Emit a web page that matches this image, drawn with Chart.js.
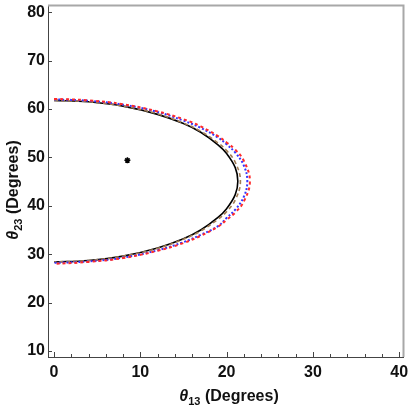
<!DOCTYPE html>
<html>
<head>
<meta charset="utf-8">
<script src="https://cdn.jsdelivr.net/npm/chart.js@4.4.1/dist/chart.umd.min.js"></script>
<style>
  html, body { margin: 0; padding: 0; background: #fff; }
  #wrap { width: 409px; height: 409px; }
</style>
</head>
<body>
<div id="wrap"><canvas id="myChart"></canvas></div>
<script>
// values (theta13, theta23 in degrees)
const blackX = [0, 4, 8, 12, 15, 17, 19, 20, 21, 21.3, 21, 20, 19, 17, 15, 12, 8, 4, 0];
const blackY = [61.8, 61.5, 60.6, 58.9, 57.0, 55.2, 52.6, 50.8, 47.9, 45.1, 42.3, 39.4, 37.6, 35.0, 33.2, 31.3, 29.6, 28.7, 28.4];

const brownX = [0, 4, 8, 12, 15, 17, 19, 20, 21, 21.6, 21, 20, 19, 17, 15, 12, 8, 4, 0];
const brownY = [61.8, 61.5, 60.6, 59.0, 57.1, 55.4, 53.0, 51.4, 49.0, 45.1, 41.2, 38.8, 37.2, 34.8, 33.1, 31.2, 29.6, 28.7, 28.4];

const blueX = [0, 4, 8, 12, 15, 17, 19, 20, 21, 22, 22.4, 22, 21, 20, 19, 17, 15, 12, 8, 4, 0];
const blueY = [62.0, 61.7, 60.9, 59.4, 57.6, 56.1, 54.1, 52.7, 51.0, 48.3, 45.1, 41.9, 39.2, 37.5, 35.8, 34.0, 32.5, 30.8, 29.3, 28.5, 28.2];

const redX = [0, 4, 8, 12, 15, 17, 19, 20, 21, 22, 22.7, 22, 21, 20, 19, 17, 15, 12, 8, 4, 0];
const redY = [62.1, 61.8, 61.0, 59.5, 57.9, 56.4, 54.4, 53.1, 51.6, 49.3, 45.1, 40.9, 38.6, 37.1, 35.7, 33.8, 32.3, 30.7, 29.2, 28.4, 28.0];

const starX = [8.5];
const starY = [49.4];

const xTicks = [0, 10, 20, 30, 40];
const yTicks = [10, 20, 30, 40, 50, 60, 70, 80];

const xTitle = ['θ', '13', ' (Degrees)'];
const yTitle = ['θ', '23', ' (Degrees)'];

const toPoints = (xs, ys) => xs.map((x, i) => ({ x, y: ys[i] }));

const FONT = "'Liberation Sans', 'DejaVu Sans', Arial, sans-serif";

// theta in bold italic, subscript smaller, rest bold
function drawTitle(ctx, parts, cx, baseY) {
  const fonts = [`italic bold 16px ${FONT}`, `bold 11px ${FONT}`, `bold 16px ${FONT}`];
  const shifts = [0, 4, 0];
  const widths = parts.map((p, i) => { ctx.font = fonts[i]; return ctx.measureText(p).width; });
  let x = cx - widths.reduce((a, b) => a + b, 0) / 2;
  ctx.textBaseline = 'alphabetic';
  ctx.textAlign = 'left';
  parts.forEach((p, i) => {
    ctx.font = fonts[i];
    ctx.fillText(p, x, baseY + shifts[i]);
    x += widths[i];
  });
}

// inward frame ticks, light top/right frame edges and axis titles
const frameTicks = {
  id: 'frameTicks',
  afterDraw(chart) {
    const { ctx, chartArea, scales } = chart;
    const { left, right, top, bottom } = chartArea;
    ctx.save();
    ctx.strokeStyle = '#444';
    ctx.lineWidth = 1;
    for (let v = 0; v <= 40; v += 2) {
      const px = Math.round(scales.x.getPixelForValue(v)) + 0.5;
      const len = v % 10 === 0 ? 5 : 3;
      ctx.beginPath();
      ctx.moveTo(px, bottom);
      ctx.lineTo(px, bottom - len);
      ctx.stroke();
    }
    yTicks.forEach((v) => {
      const py = Math.round(scales.y.getPixelForValue(v)) + 0.5;
      ctx.beginPath();
      ctx.moveTo(left, py);
      ctx.lineTo(left + 4, py);
      ctx.stroke();
    });
    ctx.strokeStyle = '#a8a8a8';
    ctx.lineWidth = 2;
    ctx.beginPath();
    ctx.moveTo(left, top);
    ctx.lineTo(right, top);
    ctx.lineTo(right, bottom);
    ctx.stroke();

    ctx.fillStyle = '#111';
    drawTitle(ctx, xTitle, 229, 401);
    ctx.translate(18, 190);
    ctx.rotate(-Math.PI / 2);
    drawTitle(ctx, yTitle, 0, 0);
    ctx.restore();
  },
};

const ctx = document.getElementById('myChart').getContext('2d');
new Chart(ctx, {
  type: 'scatter',
  data: {
    datasets: [
      {
        data: toPoints(redX, redY),
        showLine: true,
        borderColor: '#ff2a2a',
        borderWidth: 2,
        borderDash: [3, 3],
        pointRadius: 0,
        tension: 0.4,
      },
      {
        data: toPoints(blueX, blueY),
        showLine: true,
        borderColor: '#3434ff',
        borderWidth: 2,
        borderDash: [2, 2],
        pointRadius: 0,
        tension: 0.4,
      },
      {
        data: toPoints(brownX, brownY),
        showLine: true,
        borderColor: '#a07c55',
        borderWidth: 1.6,
        borderDash: [4, 3],
        pointRadius: 0,
        tension: 0.4,
      },
      {
        data: toPoints(blackX, blackY),
        showLine: true,
        borderColor: '#000',
        borderWidth: 1.6,
        pointRadius: 0,
        tension: 0.4,
      },
      {
        data: toPoints(starX, starY),
        pointStyle: 'star',
        pointRadius: 3,
        borderColor: '#000',
        backgroundColor: '#000',
        borderWidth: 1.5,
      },
    ],
  },
  options: {
    responsive: true,
    maintainAspectRatio: false,
    animation: false,
    layout: { padding: { top: 4, right: 3, left: 0, bottom: 0 } },
    plugins: {
      legend: { display: false },
      tooltip: { enabled: false },
    },
    scales: {
      x: {
        type: 'linear',
        min: -0.7,
        max: 40.5,
        afterBuildTicks: (scale) => { scale.ticks = xTicks.map((v) => ({ value: v })); },
        afterFit: (scale) => { scale.height = 52; scale.paddingLeft = 0; scale.paddingRight = 0; },
        grid: { display: false, drawTicks: false },
        border: { display: true, color: '#444', width: 1 },
        ticks: {
          padding: 6,
          color: '#111',
          maxRotation: 0,
          font: { family: FONT, size: 16, weight: 'bold' },
        },
        title: { display: false, text: 'θ13 (Degrees)' },
      },
      y: {
        type: 'linear',
        min: 8.75,
        max: 81.4,
        afterBuildTicks: (scale) => { scale.ticks = yTicks.map((v) => ({ value: v })); },
        afterFit: (scale) => { scale.width = 48; scale.paddingTop = 0; scale.paddingBottom = 0; },
        grid: { display: false, drawTicks: false },
        border: { display: true, color: '#444', width: 1 },
        ticks: {
          padding: 3,
          color: '#111',
          font: { family: FONT, size: 16, weight: 'bold' },
        },
        title: { display: false, text: 'θ23 (Degrees)' },
      },
    },
  },
  plugins: [frameTicks],
});
</script>
</body>
</html>
